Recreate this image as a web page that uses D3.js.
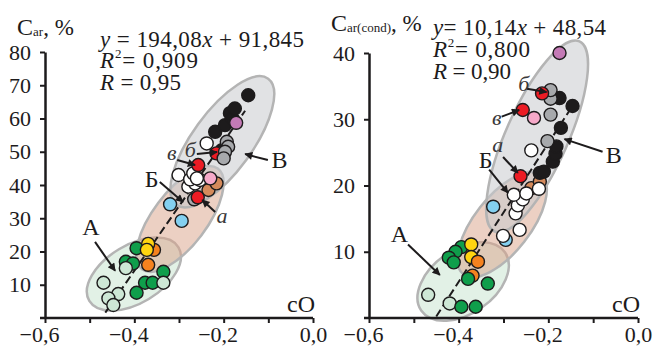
<!DOCTYPE html>
<html><head><meta charset="utf-8">
<script src="https://cdn.jsdelivr.net/npm/d3@7"></script>
<style>
body{margin:0;background:#fff;}
svg{display:block;}
</style></head><body>
<svg id="chart" width="653" height="347" font-family="Liberation Serif"></svg>
<script>
// ---------- data ----------
const xTicks = [-0.6,-0.5,-0.4,-0.3,-0.2,-0.1,0];
const xTickLabels = ["−0,6","","−0,4","","−0,2","","0,0"];
const leftYTicks = [10,20,30,40,50,60,70,80];
const rightYTicks = [10,20,30,40];

// [cO, value, group]
const leftPoints = [
  [-0.395,21.0,"g"],[-0.419,16.9,"g"],[-0.403,16.4,"g"],[-0.335,13.9,"g"],[-0.376,10.6,"g"],[-0.359,10.6,"g"],[-0.395,7.6,"g"],
  [-0.469,10.6,"pg"],[-0.436,7.2,"pg"],[-0.458,5.9,"pg"],[-0.447,3.9,"pg"],[-0.419,15.0,"pg"],[-0.335,10.6,"pg"],
  [-0.356,20.5,"o"],[-0.369,22.3,"y"],[-0.372,20.5,"y"],[-0.369,16.0,"o"],
  [-0.320,34.2,"lb"],[-0.294,29.2,"lb"],
  [-0.266,35.7,"gr"],[-0.258,36.3,"r"],
  [-0.301,43.0,"w"],[-0.279,39.5,"w"],[-0.264,40.5,"w"],[-0.253,41.5,"w"],[-0.275,41.7,"w"],[-0.268,43.5,"w"],[-0.260,42.0,"w"],[-0.238,52.5,"w"],
  [-0.234,38.5,"br"],[-0.216,40.5,"br"],
  [-0.230,42.0,"pk"],
  [-0.257,46.0,"r"],
  [-0.219,56.0,"k"],[-0.197,58.0,"k"],[-0.186,61.6,"k"],[-0.180,60.0,"k"],[-0.175,63.0,"k"],[-0.145,67.0,"k"],[-0.204,50.5,"k"],
  [-0.216,49.5,"r"],
  [-0.193,53.0,"gr"],[-0.190,51.5,"gr"],[-0.197,50.0,"gr"],[-0.200,48.0,"gr"],
  [-0.172,58.7,"m"]
];
const rightPoints = [
  [-0.468,3.5,"pg"],[-0.420,2.2,"pg"],
  [-0.394,10.7,"g"],[-0.407,10.0,"g"],[-0.422,9.1,"g"],[-0.411,8.4,"g"],[-0.335,5.2,"g"],[-0.394,1.7,"g"],[-0.362,1.7,"g"],
  [-0.372,11.1,"y"],[-0.372,9.2,"y"],
  [-0.357,8.5,"o"],[-0.369,6.4,"o"],
  [-0.379,5.9,"g"],
  [-0.323,16.8,"lb"],[-0.295,11.8,"lb"],
  [-0.238,19.6,"br"],[-0.219,20.6,"br"],
  [-0.301,12.4,"w"],[-0.264,13.3,"w"],[-0.273,15.8,"w"],[-0.268,17.0,"w"],[-0.257,17.9,"w"],[-0.277,18.6,"w"],[-0.249,18.8,"w"],[-0.221,19.5,"w"],[-0.238,25.3,"w"],
  [-0.262,21.4,"r"],
  [-0.219,21.9,"k"],[-0.210,22.1,"k"],[-0.190,23.6,"k"],[-0.184,24.8,"k"],[-0.182,25.9,"k"],[-0.172,28.7,"k"],[-0.146,32.0,"k"],[-0.175,33.2,"k"],
  [-0.202,26.7,"gr"],[-0.195,30.7,"gr"],[-0.195,33.1,"gr"],[-0.195,34.4,"gr"],
  [-0.214,33.9,"r"],[-0.257,31.4,"r"],
  [-0.232,30.2,"pk"],
  [-0.175,40.0,"m"]
];

// regression lines: [slope, intercept, xStart, xEnd]
const leftFit = [194.08, 91.845, -0.465, -0.152];
const rightFit = [104.6, 47.3, -0.450, -0.146];

// group ellipses: [key, cx, cy, rxPx, ryPx, angle]
const leftEllipses = [["A",-0.401,13.2,52,29,-31],["B",-0.298,29.8,63,27,-53],["V",-0.203,53.0,78,30,-54]];
const rightEllipses = [["A",-0.390,5.5,51,32,-35],["B",-0.303,14.1,63,28,-52],["V",-0.225,27.4,104,31,-66]];

// annotations: [label, italic, labelX, labelY, fromX, fromY, toX, toY]
const leftNotes = [
  ["А",false,-0.497,25.0,-0.488,22.9,-0.443,14.2],
  ["Б",false,-0.361,39.4,-0.343,40.9,-0.291,34.9],
  ["В",false,-0.075,45.1,-0.101,47.5,-0.152,49.3],
  ["а",true,-0.204,28.6,-0.219,31.9,-0.248,35.5],
  ["в",true,-0.316,47.5,-0.304,47.5,-0.264,46.0],
  ["б",true,-0.275,48.4,-0.260,49.3,-0.215,49.9]
];
const rightNotes = [
  ["А",false,-0.532,11.4,-0.513,11.1,-0.442,6.5],
  ["Б",false,-0.340,22.7,-0.332,22.4,-0.290,18.9],
  ["а",true,-0.313,25.0,-0.301,24.3,-0.268,21.9],
  ["б",true,-0.255,34.2,-0.248,34.6,-0.204,34.1],
  ["в",true,-0.315,29.2,-0.304,30.4,-0.265,31.4],
  ["В",false,-0.054,23.4,-0.079,25.1,-0.164,27.0]
];

const leftEq = ["194,08","91,845","0,909","0,95"];
const rightEq = ["10,14","48,54","0,800","0,90"];

// ---------- styles ----------
const FONT = "Liberation Serif";
const colors = {pg:"#cde7d5", g:"#0f9e4b", y:"#ffd410", o:"#f5821f", lb:"#84d0f0", w:"#ffffff",
  br:"#d58a5b", pk:"#f6a9c9", r:"#ec1c24", gr:"#a7a9ac", k:"#1d1b1c", m:"#c47ab6"};
const ellFill = {A:["#cfe7d5",0.6], B:["#d9a187",0.5], V:["#c8cacd",0.55]};
const ink = "#1d1b1c";

const svg = d3.select("#chart");
const defs = svg.append("defs");
defs.append("marker").attr("id","arr").attr("viewBox","0 0 10 10")
  .attr("refX",9).attr("refY",5).attr("markerWidth",11).attr("markerHeight",8)
  .attr("markerUnits","userSpaceOnUse").attr("orient","auto")
  .append("path").attr("d","M0,0 L10,5 L0,10 z").attr("fill",ink);

function fitWidth(sel, target){
  const node = sel.node();
  const w = node.getComputedTextLength();
  const n = node.textContent.length;
  if (n > 1) sel.attr("letter-spacing", ((target - w)/(n-1)).toFixed(2));
}

function panel(cfg){
  const g = svg.append("g");
  const x = d3.scaleLinear().domain([-0.6,0]).range(cfg.xr);
  const y = d3.scaleLinear().domain([0,cfg.ymax]).range(cfg.yr);

  g.selectAll(".ell").data(cfg.ells).join("ellipse")
    .attr("transform",d=>`translate(${x(d[1])},${y(d[2])}) rotate(${d[5]})`)
    .attr("rx",d=>d[3]).attr("ry",d=>d[4])
    .attr("fill",d=>ellFill[d[0]][0]).attr("fill-opacity",d=>ellFill[d[0]][1])
    .attr("stroke","#b4b4b4").attr("stroke-width",2.5);

  const f = cfg.fit;
  g.append("line").attr("x1",x(f[2])).attr("y1",y(f[0]*f[2]+f[1]))
    .attr("x2",x(f[3])).attr("y2",y(f[0]*f[3]+f[1]))
    .attr("stroke",ink).attr("stroke-width",2).attr("stroke-dasharray","8,4");

  g.selectAll(".pt").data(cfg.pts).join("circle")
    .attr("cx",d=>x(d[0])).attr("cy",d=>y(d[1])).attr("r",6.5)
    .attr("fill",d=>colors[d[2]]).attr("stroke",ink).attr("stroke-width",1.4);

  const ax = g.append("g").attr("transform",`translate(0,${cfg.yr[0]})`)
    .call(d3.axisBottom(x).tickValues(xTicks).tickFormat((d,i)=>xTickLabels[i]).tickSize(5).tickSizeOuter(0).tickPadding(3));
  ax.select(".domain").attr("d",`M${cfg.xr[0]-5},0H${cfg.xr[1]}`);
  ax.selectAll(".tick text").attr("dx",(d,i)=>xTickLabels[i].startsWith("−")?-6:0);
  const ay = g.append("g").attr("transform",`translate(${cfg.xr[0]},0)`)
    .call(d3.axisLeft(y).tickValues(cfg.yticks).tickFormat(d=>d).tickSize(5).tickSizeOuter(0).tickPadding(9));
  [ax,ay].forEach(a=>{
    a.attr("font-family",FONT).attr("font-size",22);
    a.select(".domain").attr("stroke",ink).attr("stroke-width",2.5);
    a.selectAll(".tick line").attr("stroke",ink).attr("stroke-width",2);
    a.selectAll("text").attr("font-family",FONT).attr("font-size",22).attr("fill",ink);
  });

  const n = g.selectAll(".note").data(cfg.notes).join("g");
  n.append("line").attr("x1",d=>x(d[4])).attr("y1",d=>y(d[5])).attr("x2",d=>x(d[6])).attr("y2",d=>y(d[7]))
    .attr("stroke",ink).attr("stroke-width",2).attr("marker-end","url(#arr)");
  n.append("text").attr("x",d=>x(d[2])).attr("y",d=>y(d[3])).attr("text-anchor","middle")
    .attr("font-family",FONT)
    .attr("font-size",d=>d[1]?22:24).attr("font-style",d=>d[1]?"italic":"normal")
    .attr("fill",d=>d[1]?"#3a3839":ink).text(d=>d[0]);

  g.append("text").attr("x",cfg.xr[1]+2).attr("y",cfg.yr[0]-6).attr("text-anchor","end")
    .attr("font-family",FONT).attr("font-size",24).attr("fill",ink).text("cO");

  const t = g.append("text").attr("x",cfg.tx).attr("y",cfg.ty).attr("fill",ink).attr("font-family",FONT);
  t.append("tspan").attr("font-size",24).text("C");
  t.append("tspan").attr("font-size",13).attr("dy",1).text(cfg.sub);
  t.append("tspan").attr("font-size",23).attr("dy",-1).text(", %");

  const e = cfg.eq, L = cfg.eqw;
  const mk = (yy)=>g.append("text").attr("x",cfg.ex).attr("y",yy).attr("font-family",FONT)
    .attr("font-size",23).attr("fill",ink);
  const t1 = mk(cfg.ey[0]);
  t1.append("tspan").attr("font-style","italic").text("y");
  t1.append("tspan").text(cfg.eqsep + e[0]);
  t1.append("tspan").attr("font-style","italic").text("x");
  t1.append("tspan").text(" + " + e[1]);
  fitWidth(t1, L[0]);
  const t2 = mk(cfg.ey[1]);
  t2.append("tspan").attr("font-style","italic").text("R");
  t2.append("tspan").attr("font-size",13).attr("dy",-10).text("2");
  t2.append("tspan").attr("dy",10).text("= " + e[2]);
  fitWidth(t2, L[1]);
  const t3 = mk(cfg.ey[2]);
  t3.append("tspan").attr("font-style","italic").text("R");
  t3.append("tspan").text(" = " + e[3]);
  fitWidth(t3, L[2]);
}

panel({xr:[45,313], yr:[318,52], ymax:80, yticks:leftYTicks, pts:leftPoints, fit:leftFit,
  ells:leftEllipses, notes:leftNotes, tx:17, ty:35, sub:"ar", eq:leftEq, eqsep:" = ", eqw:[204,98,81],
  ex:100, ey:[47,68,90]});
panel({xr:[369,638], yr:[318,53], ymax:40, yticks:rightYTicks, pts:rightPoints, fit:rightFit,
  ells:rightEllipses, notes:rightNotes, tx:331, ty:31, sub:"ar(cond)", eq:rightEq, eqsep:"= ", eqw:[173,97,78],
  ex:433, ey:[35,57,79]});
</script>
</body></html>
